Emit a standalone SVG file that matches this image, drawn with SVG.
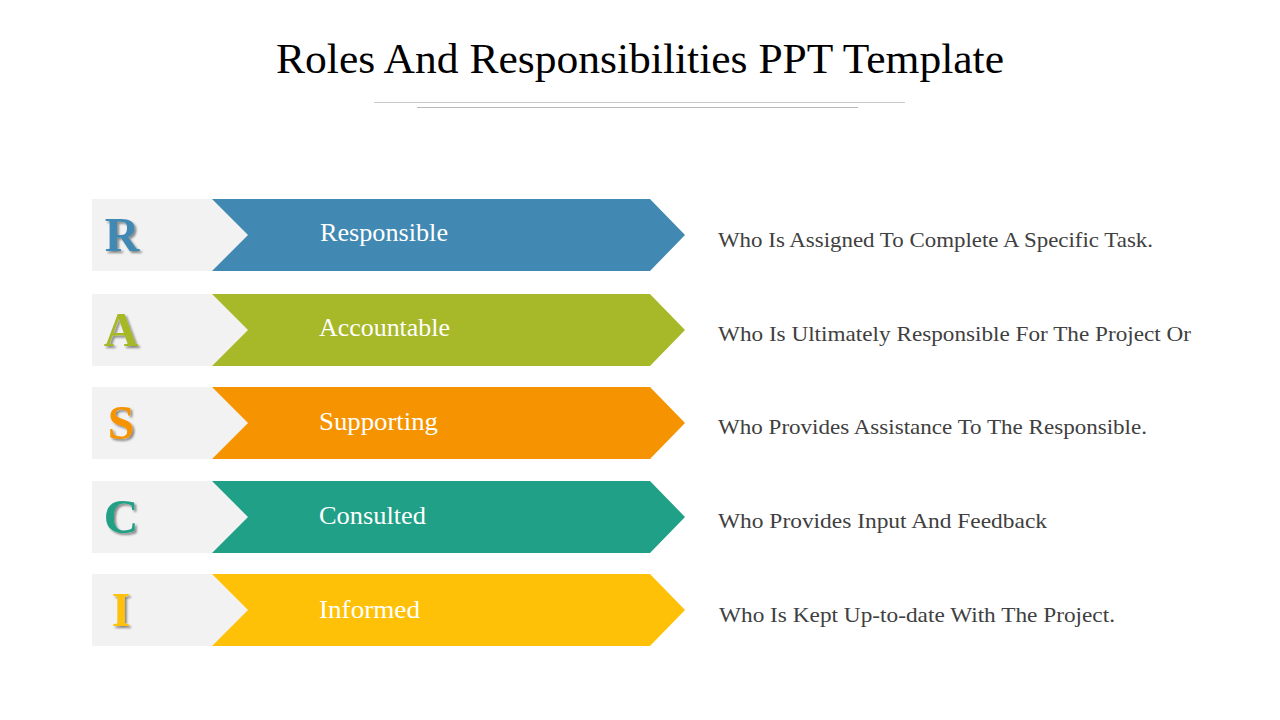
<svg xmlns="http://www.w3.org/2000/svg" width="1280" height="720" viewBox="0 0 1280 720">
<defs>
<filter id="sh" x="-20%" y="-20%" width="150%" height="150%">
<feDropShadow dx="2" dy="2" stdDeviation="1.2" flood-color="#000" flood-opacity="0.45"/>
</filter>
</defs>
<style>
.title{font-family:"Liberation Serif",serif;font-size:42px;fill:#000}
.lt{font-family:"Liberation Serif",serif;font-size:48px;font-weight:bold;text-anchor:middle}
.lb{font-family:"Liberation Serif",serif;font-size:25px;fill:#fff}
.ds{font-family:"Liberation Serif",serif;font-size:22px;fill:#404040}
.bg{fill:#f2f2f2}
</style>
<rect width="1280" height="720" fill="#fff"/>
<text class="title" x="276" y="73" textLength="728" lengthAdjust="spacingAndGlyphs">Roles And Responsibilities PPT Template</text>
<line x1="374" y1="102.5" x2="905" y2="102.5" stroke="#c8c8c8" stroke-width="1"/>
<line x1="417" y1="107.5" x2="858" y2="107.5" stroke="#b8b8b8" stroke-width="1"/>

<g id="row-r">
<polygon class="bg" points="92,199 212,199 248,235 212,271 92,271"/>
<polygon fill="#4189b3" points="212,199 650,199 685,235 650,271 212,271 248,235"/>
<text class="lt" x="122" y="251" fill="#4189b3" filter="url(#sh)">R</text>
<text class="lb" x="320" y="241" textLength="128" lengthAdjust="spacingAndGlyphs">Responsible</text>
<text class="ds" x="718" y="247" textLength="435" lengthAdjust="spacingAndGlyphs">Who Is Assigned To Complete A Specific Task.</text>
</g>
<g id="row-a">
<polygon class="bg" points="92,294 212,294 248,330 212,366 92,366"/>
<polygon fill="#a7b828" points="212,294 650,294 685,330 650,366 212,366 248,330"/>
<text class="lt" x="121" y="346" fill="#a7b828" filter="url(#sh)">A</text>
<text class="lb" x="319" y="336" textLength="131" lengthAdjust="spacingAndGlyphs">Accountable</text>
<text class="ds" x="718" y="341" textLength="473" lengthAdjust="spacingAndGlyphs">Who Is Ultimately Responsible For The Project Or</text>
</g>
<g id="row-s">
<polygon class="bg" points="92,387 212,387 248,423 212,459 92,459"/>
<polygon fill="#f59300" points="212,387 650,387 685,423 650,459 212,459 248,423"/>
<text class="lt" x="121" y="439" fill="#f59300" filter="url(#sh)">S</text>
<text class="lb" x="319" y="430" textLength="119" lengthAdjust="spacingAndGlyphs">Supporting</text>
<text class="ds" x="718" y="434" textLength="429" lengthAdjust="spacingAndGlyphs">Who Provides Assistance To The Responsible.</text>
</g>
<g id="row-c">
<polygon class="bg" points="92,481 212,481 248,517 212,553 92,553"/>
<polygon fill="#20a086" points="212,481 650,481 685,517 650,553 212,553 248,517"/>
<text class="lt" x="121" y="533" fill="#20a086" filter="url(#sh)">C</text>
<text class="lb" x="319" y="524" textLength="107" lengthAdjust="spacingAndGlyphs">Consulted</text>
<text class="ds" x="718" y="528" textLength="329" lengthAdjust="spacingAndGlyphs">Who Provides Input And Feedback</text>
</g>
<g id="row-i">
<polygon class="bg" points="92,574 212,574 248,610 212,646 92,646"/>
<polygon fill="#fec107" points="212,574 650,574 685,610 650,646 212,646 248,610"/>
<text class="lt" x="121" y="626" fill="#fec107" filter="url(#sh)">I</text>
<text class="lb" x="319" y="618" textLength="101" lengthAdjust="spacingAndGlyphs">Informed</text>
<text class="ds" x="719" y="622" textLength="396" lengthAdjust="spacingAndGlyphs">Who Is Kept Up-to-date With The Project.</text>
</g>
<g id="connectors"></g>
</svg>
